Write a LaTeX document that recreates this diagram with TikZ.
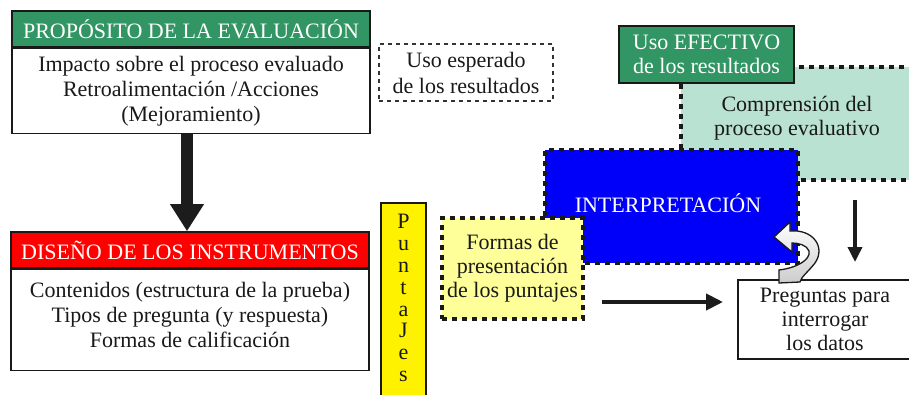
\documentclass[tikz,border=0pt]{standalone}
\usepackage{fontspec}
\setmainfont{Liberation Serif}
\usetikzlibrary{arrows.meta}
\definecolor{hdrgreen}{RGB}{50,150,100}
\definecolor{compteal}{RGB}{185,226,211}
\definecolor{lightyel}{RGB}{255,255,153}
\definecolor{interblue}{RGB}{0,0,250}
\definecolor{arrowblack}{RGB}{28,28,28}
\tikzset{
  txt/.style={font=\fontsize{22}{25}\selectfont, inner sep=0pt, align=center, text=black!90},
  solidbox/.style={draw=black!90, line width=1.5pt},
  dotbox/.style={draw=black!90, line width=3.5pt, dash pattern=on 5pt off 5pt},
  thindot/.style={draw=black!80, line width=1.5pt, dash pattern=on 4pt off 4pt},
}
\begin{document}
\begin{tikzpicture}[x=1pt,y=-1pt]
\useasboundingbox (0,0) rectangle (909,395);
\clip (0,0) rectangle (909,395);

% Left column
\node[txt, solidbox, fill=hdrgreen, text=white, minimum width=358pt, minimum height=36pt] (prophdr) at (191,29) {PROPÓSITO DE LA EVALUACIÓN};
\node[txt, solidbox, fill=white, minimum width=358pt, minimum height=85pt, anchor=north] (propbody) at (prophdr.south)
  {Impacto sobre el proceso evaluado\\Retroalimentación /Acciones\\(Mejoramiento)};

\node[txt, solidbox, fill=red, text=white, minimum width=358pt, minimum height=36pt] (dishdr) at (190,250) {DISEÑO DE LOS INSTRUMENTOS};
\node[solidbox, fill=white, minimum width=358pt, minimum height=101pt, anchor=north, inner sep=0pt] (disbody) at (dishdr.south) {};
\node[txt] (distext) at (190,315) {Contenidos (estructura de la prueba)\\Tipos de pregunta (y respuesta)\\Formas de calificación};

\draw[arrowblack, line width=12pt, -{Triangle[length=27pt,width=32pt]}] ([xshift=-4pt]propbody.south) -- ([xshift=-3pt]dishdr.north);

% Uso esperado
\node[txt, thindot, minimum width=174pt, minimum height=57pt, font=\fontsize{22}{26}\selectfont] (esperado) at (466,72.5) {Uso esperado\\de los resultados};

% Right cluster
\node[dotbox, fill=compteal, minimum width=240pt, minimum height=113pt, inner sep=0pt] (comp) at (801,123.5) {};
\node[txt, font=\fontsize{22}{24}\selectfont] (comptext) at (797,118) {Comprensión del\\proceso evaluativo};

\node[txt, solidbox, fill=hdrgreen, text=white, minimum width=175pt, minimum height=57pt, font=\fontsize{22}{24}\selectfont] (efectivo) at (706.5,54.5) {Uso EFECTIVO\\de los resultados};

\node[txt, dotbox, fill=interblue, text=white, minimum width=253pt, minimum height=113pt] (interp) at (671.5,206.5) {};
\node[txt, text=white] (interptext) at (668,203) {INTERPRETACIÓN};

\node[txt, dotbox, fill=lightyel, minimum width=141pt, minimum height=101pt, font=\fontsize{22}{24}\selectfont] (formas) at (512.5,268.5) {Formas de\\presentación\\de los puntajes};

\node[solidbox, fill=yellow, minimum width=45pt, minimum height=200pt, inner sep=0pt] (puntbox) at (403.5,303) {};
\node[txt, font=\fontsize{22}{21.9}\selectfont] (punttext) at (403.5,298) {P\\u\\n\\t\\a\\J\\e\\s};

\node[txt, draw=black!90, line width=1.3pt, fill=white, minimum width=174pt, minimum height=79pt, font=\fontsize{22}{24}\selectfont] (preg) at (825,319.5) {Preguntas para\\interrogar\\los datos};

% arrows
\coordinate (h1) at (602,302);
\coordinate (h2) at (723,302);
\draw[arrowblack, line width=4pt, -{Triangle[length=17pt,width=16pt]}] (h1) -- (h2);
\coordinate (d1) at (855,200);
\coordinate (d2) at (855,262);
\draw[arrowblack, line width=3.5pt, -{Triangle[length=15pt,width=14pt]}] (d1) -- (d2);

% curved feedback arrow
\draw[black!90, line width=1.3pt, top color=white, middle color=white, bottom color=black!20]
  (774,237) -- (790,222) -- (790,231)
  .. controls (813,229) and (826,247) .. (815,263)
  .. controls (808,272) and (801,277) .. (800,282)
  -- (779,283) -- (779,270)
  .. controls (796,268) and (811,260) .. (809,251)
  .. controls (807,245) and (798,243) .. (792,243)
  -- (792,252) -- cycle;
\end{tikzpicture}
\end{document}
